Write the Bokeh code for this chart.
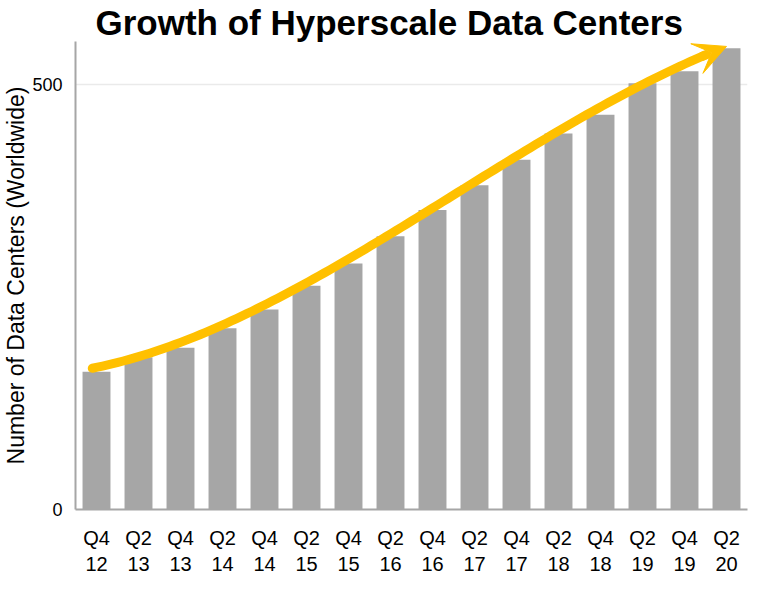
import numpy as np
from bokeh.plotting import figure
from bokeh.models import Range1d, FixedTicker, Arrow, VeeHead, ColumnDataSource
from bokeh.embed import file_html
from bokeh.resources import INLINE

# ---- data ----
categories = ["Q4 12", "Q2 13", "Q4 13", "Q2 14", "Q4 14", "Q2 15", "Q4 15", "Q2 16",
              "Q4 16", "Q2 17", "Q4 17", "Q2 18", "Q4 18", "Q2 19", "Q4 19", "Q2 20"]
data_centers = [162, 179, 190, 213, 235, 263, 289, 321, 352, 381, 411, 442, 464, 501, 515, 542]
y_ticks = [0, 500]

title_text = "Growth of Hyperscale Data Centers"
y_label_text = "Number of Data Centers (Worldwide)"

BAR = "#A6A6A6"
ARROW = "#FFC000"
FONT = "Liberation Sans"

n = len(categories)
xs = np.arange(n) + 0.5

p = figure(width=755, height=586, output_backend="svg", toolbar_location=None,
           x_range=Range1d(0, n), y_range=Range1d(0, 550),
           min_border_left=73, min_border_right=8, min_border_top=38, min_border_bottom=77)
p.outline_line_color = None
p.background_fill_color = "white"
p.border_fill_color = "white"

p.title.text = title_text
p.title.text_font = FONT
p.title.text_font_size = "35px"
p.title.text_font_style = "bold"
p.title.text_color = "black"
p.title.align = "left"
p.title.offset = 20
p.title.standoff = 0

src = ColumnDataSource(dict(x=xs, top=data_centers, cat=categories))
p.vbar(x="x", top="top", width=0.665, source=src, fill_color=BAR, line_color=None)

# trend arrow derived from the bar values (cubic fit)
coef = np.polyfit(np.arange(n), data_centers, 3)
t = np.linspace(-0.1, n - 1.5, 120)
curve_y = np.polyval(coef, t) + 4
p.line(t + 0.5, curve_y, line_color=ARROW, line_width=9, line_cap="round", line_join="round")
t0, t1 = n - 1.6, n - 1.0
p.add_layout(Arrow(x_start=t0 + 0.5, y_start=np.polyval(coef, t0) + 4,
                   x_end=t1 + 0.5, y_end=np.polyval(coef, t1) + 4,
                   line_color=ARROW, line_width=9,
                   end=VeeHead(size=32, fill_color=ARROW, line_color=ARROW, line_width=1)))

# axes
xa = p.xaxis[0]
xa.ticker = FixedTicker(ticks=list(xs))
xa.major_label_overrides = {float(x): c.replace(" ", "\n") for x, c in zip(xs, categories)}
xa.major_label_text_font = FONT
xa.major_label_text_font_size = "20px"
xa.major_label_text_color = "black"
xa.major_label_standoff = 11
xa.major_tick_line_color = None
xa.minor_tick_line_color = None
xa.axis_line_color = "#A6A6A6"
xa.axis_line_width = 2

ya = p.yaxis[0]
ya.ticker = FixedTicker(ticks=y_ticks)
ya.major_label_text_font = FONT
ya.major_label_text_font_size = "18px"
ya.major_label_text_color = "black"
ya.major_label_standoff = 7
ya.major_tick_line_color = None
ya.minor_tick_line_color = None
ya.axis_line_color = "#A6A6A6"
ya.axis_line_width = 2
ya.axis_label = y_label_text
ya.axis_label_text_font = FONT
ya.axis_label_text_font_size = "23px"
ya.axis_label_text_font_style = "normal"
ya.axis_label_text_color = "black"
ya.axis_label_standoff = 0

p.xgrid.grid_line_color = None
p.ygrid.grid_line_color = "#EAEAEA"
p.ygrid.grid_line_width = 1.5

open("out.html", "w").write(file_html(p, INLINE))
